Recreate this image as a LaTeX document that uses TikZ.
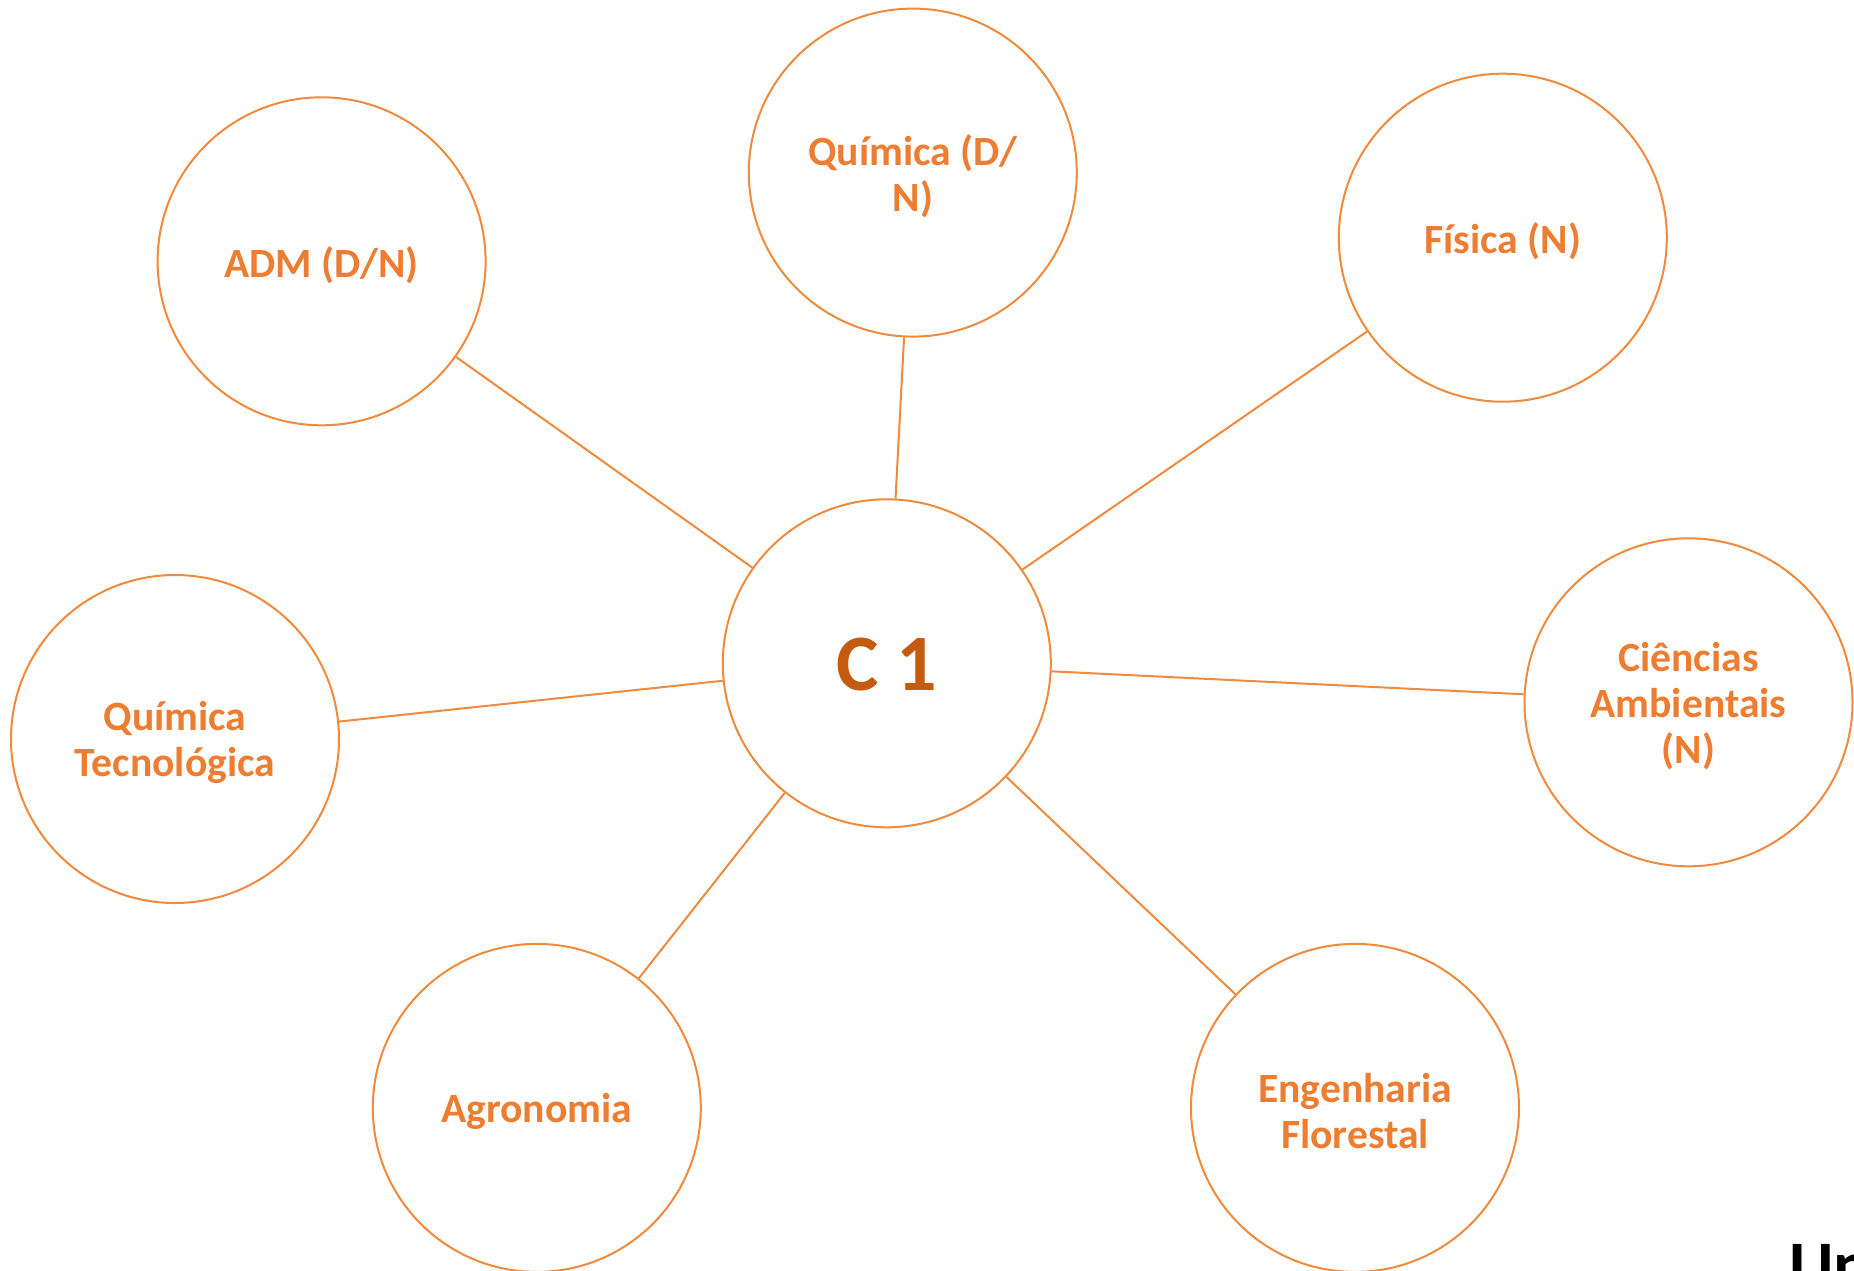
\documentclass[tikz,border=0pt]{standalone}
\usepackage{fontspec}
\setmainfont{Carlito}
\definecolor{orangeline}{HTML}{F08A3C}
\definecolor{orangetext}{HTML}{ED7D31}
\definecolor{darkorange}{HTML}{C55A11}
\tikzset{
  course/.style={circle, draw=orangeline, line width=1pt, fill=white, minimum size=164pt, inner sep=0pt},
  coursetext/.style={align=center, text=orangetext, inner sep=0pt, yshift=-1.8pt,
    font=\fontsize{20.8}{23}\selectfont\bfseries},
  hubtext/.style={align=center, text=darkorange, inner sep=0pt, yshift=-0.5pt,
    font=\fontsize{40}{44}\selectfont\bfseries},
  link/.style={draw=orangeline, line width=1pt}
}
\begin{document}
\begin{tikzpicture}[x=0.5pt,y=-0.5pt]
\useasboundingbox (0,0) rectangle (1854,1270);
\clip (0,0) rectangle (1854,1270);
\fill[white] (0,0) rectangle (1854,1270);
\node[course, label={[hubtext]center:C 1}] (c1) at (886.8,663.3) {};
\node[course, label={[coursetext]center:ADM (D/N)}] (adm) at (321.6,261.3) {};
\node[course, label={[coursetext]center:{Química (D/\\N)}}] (qdn) at (912.8,172.6) {};
\node[course, label={[coursetext]center:Física (N)}] (fis) at (1502.8,237.7) {};
\node[course, label={[coursetext]center:{Ciências\\Ambientais\\(N)}}] (cam) at (1688.5,702.3) {};
\node[course, label={[coursetext]center:{Engenharia\\Florestal}}] (eng) at (1355.0,1107.9) {};
\node[course, label={[coursetext]center:Agronomia}] (agr) at (536.8,1107.9) {};
\node[course, label={[coursetext]center:{Química\\Tecnológica}}] (qtc) at (175.0,739.0) {};
\foreach \n in {adm,qdn,fis,cam,eng,agr,qtc}
  \draw[link] (c1) -- (\n);
\node[anchor=base west, inner sep=0pt, font=\fontsize{34}{40}\selectfont\bfseries, text=black] (un) at (1789,1288) {Un};
\end{tikzpicture}
\end{document}
